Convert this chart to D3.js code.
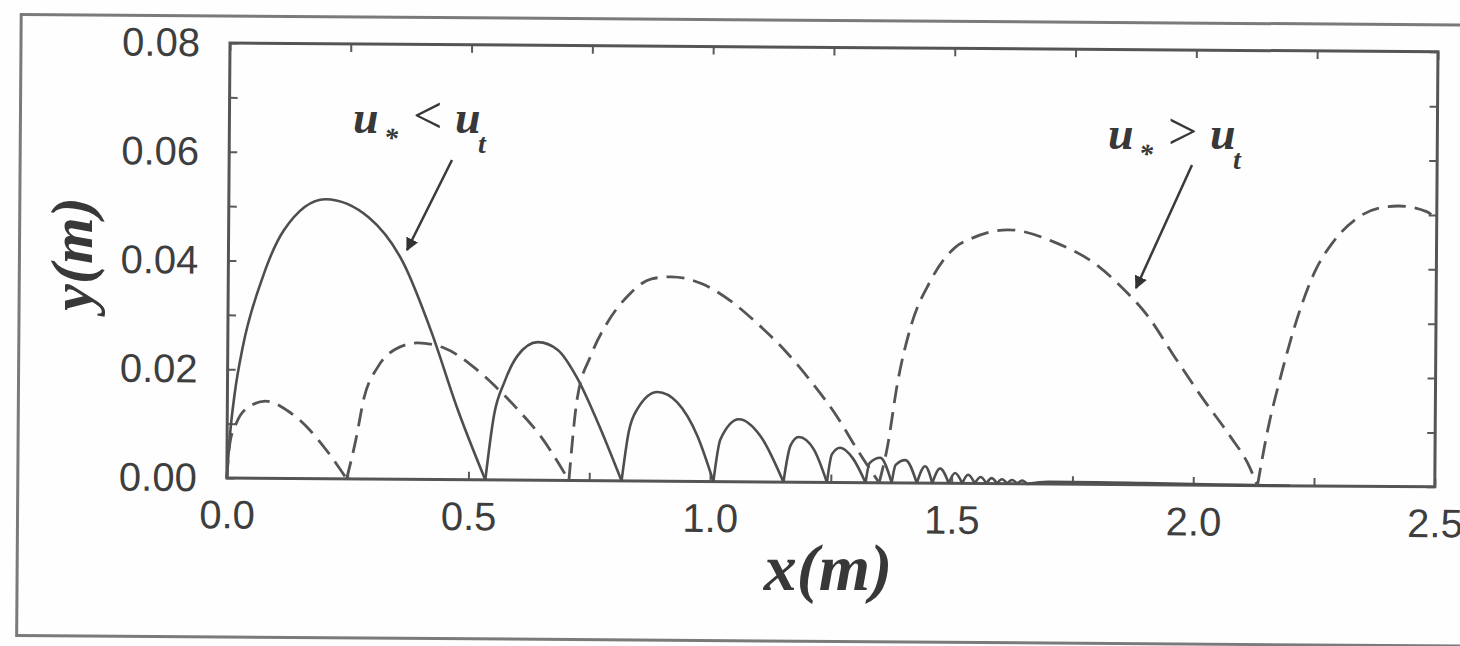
<!DOCTYPE html>
<html lang="en">
<head>
<meta charset="UTF-8">
<title>Saltation trajectories</title>
<script src="https://d3js.org/d3.v7.min.js"></script>
<style>
    body { margin: 0; background: #fefefe; }
    .tick text { font-family: "Liberation Sans", Arial, sans-serif; font-size: 40px; fill: #3e3e3e; }
    .tick line { stroke: #5a5a5a; stroke-width: 2; }
    .lbl { font-family: "Liberation Serif", "Times New Roman", serif; font-weight: bold; font-style: italic; fill: #383838; }
</style>
</head>
<body>
<script>

// axis ticks
var xTicks = [0, 0.25, 0.5, 0.75, 1.0, 1.25, 1.5, 1.75, 2.0, 2.25, 2.5];
var xLabels = [0, 0.5, 1.0, 1.5, 2.0, 2.5];
var yTicks = [0, 0.01, 0.02, 0.03, 0.04, 0.05, 0.06, 0.07, 0.08];
var yLabels = [0, 0.02, 0.04, 0.06, 0.08];

// u* < ut : solid curve, one array of [x, y] per hop
var solidArcs = [
    [[0, 0], [0.006, 0.008], [0.015, 0.0155], [0.031, 0.0241], [0.069, 0.0364], [0.114, 0.0456], [0.2, 0.0514], [0.29, 0.0481], [0.362, 0.0398], [0.421, 0.0272], [0.476, 0.0131], [0.535, 0]],
    [[0.535, 0], [0.552, 0.0119], [0.573, 0.018], [0.6, 0.0229], [0.642, 0.0254], [0.683, 0.024], [0.724, 0.0188], [0.766, 0.0109], [0.817, 0]],
    [[0.817, 0], [0.831, 0.009], [0.849, 0.0133], [0.89, 0.0164], [0.931, 0.0145], [0.973, 0.0084], [1.007, 0]],
    [[1.007, 0], [1.021, 0.0078], [1.059, 0.0115], [1.104, 0.0084], [1.152, 0]],
    [[1.152, 0], [1.166, 0.0067], [1.183, 0.0083], [1.214, 0.0061], [1.242, 0]],
    [[1.242, 0], [1.252, 0.0052], [1.269, 0.0064], [1.295, 0.0045], [1.322, 0]],
    [[1.322, 0], [1.33, 0.0036], [1.352, 0.0046], [1.376, 0]],
    [[1.376, 0], [1.384, 0.0033], [1.404, 0.0042], [1.428, 0]],
    [[1.428, 0], [1.445, 0.0031], [1.46, 0]],
    [[1.46, 0], [1.476, 0.0027], [1.494, 0]],
    [[1.494, 0], [1.507, 0.0019], [1.522, 0]],
    [[1.522, 0], [1.534, 0.0016], [1.548, 0]],
    [[1.548, 0], [1.56, 0.0012], [1.572, 0]],
    [[1.572, 0], [1.583, 0.001], [1.594, 0]],
    [[1.594, 0], [1.604, 0.0008], [1.615, 0]],
    [[1.615, 0], [1.625, 0.0007], [1.636, 0]],
    [[1.636, 0], [1.646, 0.0006], [1.656, 0]],
    [[1.656, 0], [1.7, 0.0004], [1.8, 0.0004], [1.9, 0.0003], [2.0, 0.0002], [2.1, 0.0001], [2.2, 0]]
];

// u* > ut : dashed curve
var dashedArcs = [
    [[0, 0], [0.006, 0.0065], [0.02, 0.0103], [0.048, 0.0133], [0.079, 0.0142], [0.124, 0.0125], [0.166, 0.0094], [0.207, 0.0051], [0.248, 0]],
    [[0.248, 0], [0.266, 0.007], [0.283, 0.015], [0.31, 0.0205], [0.345, 0.0238], [0.393, 0.0251], [0.448, 0.0242], [0.504, 0.0211], [0.552, 0.0174], [0.6, 0.0131], [0.648, 0.0082], [0.708, 0]],
    [[0.708, 0], [0.724, 0.0151], [0.752, 0.0231], [0.786, 0.0292], [0.828, 0.0341], [0.876, 0.0372], [0.917, 0.0376], [0.979, 0.0364], [1.042, 0.0331], [1.097, 0.0290], [1.152, 0.0243], [1.207, 0.0186], [1.262, 0.0121], [1.304, 0.0061], [1.35, 0]],
    [[1.35, 0], [1.366, 0.0063], [1.387, 0.0186], [1.414, 0.029], [1.452, 0.037], [1.504, 0.0434], [1.536, 0.045], [1.613, 0.0467], [1.709, 0.0445], [1.796, 0.0404], [1.85, 0.0362], [1.902, 0.0312], [1.96, 0.0235], [2.018, 0.016], [2.076, 0.009], [2.113, 0.004], [2.133, 0]],
    [[2.133, 0], [2.152, 0.0096], [2.181, 0.0206], [2.21, 0.03], [2.249, 0.0395], [2.287, 0.045], [2.335, 0.0493], [2.38, 0.0512], [2.421, 0.0516], [2.479, 0.0506], [2.5, 0.049]]
];

var width = 1460,
    height = 646;
var plot = {left: 230, top: 43, w: 1208, h: 435};

var svg = d3.select('body').append('svg')
    .attr('width', width)
    .attr('height', height);

svg.append('defs').append('marker')
    .attr('id', 'head')
    .attr('viewBox', '0 0 10 10')
    .attr('refX', 9).attr('refY', 5)
    .attr('markerWidth', 13).attr('markerHeight', 13)
    .attr('markerUnits', 'userSpaceOnUse')
    .attr('orient', 'auto')
    .append('path')
    .attr('d', 'M0,0 L10,5 L0,10 Z')
    .attr('fill', '#333');

// the scan is tilted a little, so the frame and plot are turned with it
var g = svg.append('g').attr('transform', 'rotate(0.42,230,43)');

g.append('rect')
    .attr('x', 21).attr('y', 16)
    .attr('width', 1480).attr('height', 621)
    .attr('fill', 'none')
    .attr('stroke', '#7a7a7a')
    .attr('stroke-width', 3);

var x = d3.scaleLinear().domain([0, 2.5]).range([plot.left, plot.left + plot.w]);
var y = d3.scaleLinear().domain([0, 0.08]).range([plot.top + plot.h, plot.top]);

var fx = d3.format('.1f'),
    fy = d3.format('.2f');

var bottom = g.append('g')
    .attr('transform', 'translate(0,' + (plot.top + plot.h) + ')')
    .call(d3.axisBottom(x).tickValues(xTicks).tickSize(-8).tickPadding(22)
        .tickFormat(function (d) { return xLabels.indexOf(d) >= 0 ? fx(d) : ''; }));
var left = g.append('g')
    .attr('transform', 'translate(' + plot.left + ',0)')
    .call(d3.axisLeft(y).tickValues(yTicks).tickSize(-8).tickPadding(30)
        .tickFormat(function (d) { return yLabels.indexOf(d) >= 0 ? fy(d) : ''; }));
var top = g.append('g')
    .attr('transform', 'translate(0,' + plot.top + ')')
    .call(d3.axisTop(x).tickValues(xTicks).tickSize(-8).tickFormat(''));
var right = g.append('g')
    .attr('transform', 'translate(' + (plot.left + plot.w) + ',0)')
    .call(d3.axisRight(y).tickValues(yTicks).tickSize(-8).tickFormat(''));

g.selectAll('.domain').remove();

g.append('rect')
    .attr('x', plot.left).attr('y', plot.top)
    .attr('width', plot.w).attr('height', plot.h)
    .attr('fill', 'none')
    .attr('stroke', '#555')
    .attr('stroke-width', 3);

var line = d3.line()
    .x(function (d) { return x(d[0]); })
    .y(function (d) { return y(d[1]); })
    .curve(d3.curveMonotoneX);

g.append('g').selectAll('path')
    .data(solidArcs)
    .enter()
    .append('path')
    .attr('d', line)
    .attr('fill', 'none')
    .attr('stroke', '#4e4e4e')
    .attr('stroke-width', 2.6);

g.append('g').selectAll('path')
    .data(dashedArcs)
    .enter()
    .append('path')
    .attr('d', line)
    .attr('fill', 'none')
    .attr('stroke', '#555')
    .attr('stroke-width', 2.8)
    .attr('stroke-dasharray', '18,9');

// axis titles
svg.append('text')
    .attr('class', 'lbl')
    .attr('x', 828).attr('y', 590)
    .attr('text-anchor', 'middle')
    .style('font-size', '66px')
    .text('x(m)');

svg.append('text')
    .attr('class', 'lbl')
    .attr('transform', 'translate(92,254) rotate(-90)')
    .attr('text-anchor', 'middle')
    .style('font-size', '60px')
    .text('y(m)');

// annotations
function note(x0, base, sign) {
    var t = svg.append('text').attr('class', 'lbl').style('font-size', '46px');
    t.append('tspan').attr('x', x0).attr('y', base).text('u');
    t.append('tspan').attr('x', x0 + 31).attr('y', base + 14).style('font-size', '28px').text('*');
    t.append('tspan').attr('x', x0 + 60).attr('y', base).style('font-weight', 'normal').style('font-style', 'normal').style('font-size', '52px').text(sign);
    t.append('tspan').attr('x', x0 + 102).attr('y', base).text('u');
    t.append('tspan').attr('x', x0 + 125).attr('y', base + 20).style('font-size', '28px').text('t');
}
note(353, 133, '<');
note(1108, 149, '>');

svg.append('line')
    .attr('x1', 452).attr('y1', 160)
    .attr('x2', 407).attr('y2', 250)
    .attr('stroke', '#3a3a3a').attr('stroke-width', 2.5)
    .attr('marker-end', 'url(#head)');
svg.append('line')
    .attr('x1', 1192).attr('y1', 165)
    .attr('x2', 1136).attr('y2', 288)
    .attr('stroke', '#3a3a3a').attr('stroke-width', 2.5)
    .attr('marker-end', 'url(#head)');

</script>
</body>
</html>
